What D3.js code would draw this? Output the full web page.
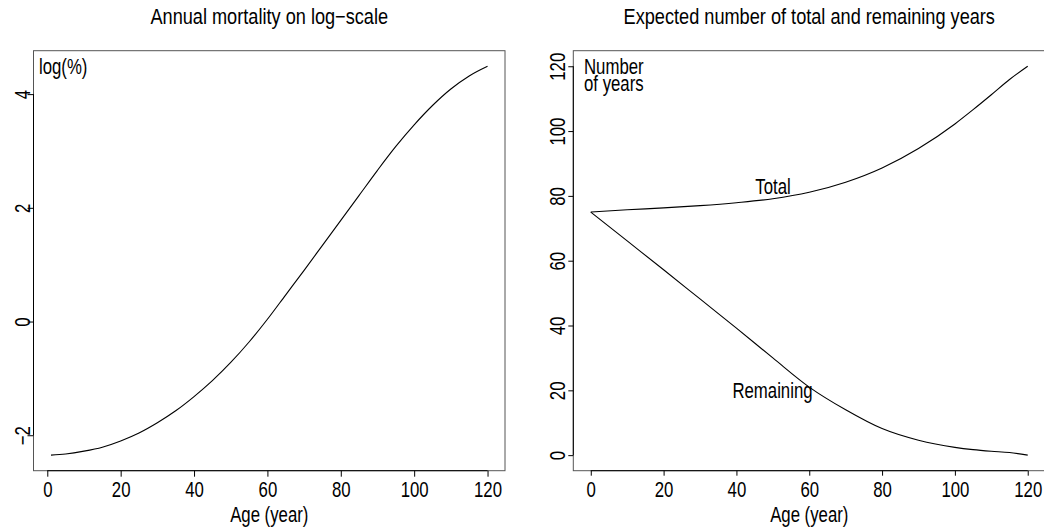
<!DOCTYPE html>
<html><head><meta charset="utf-8">
<script src="https://cdn.jsdelivr.net/npm/d3@7"></script>
<style>
html,body{margin:0;padding:0;background:#fff;}
text{font-family:"Liberation Sans",Arial,Helvetica,sans-serif;fill:#000;}
</style></head>
<body>
<svg id="chart" width="1044" height="531"></svg>
<script>
// ---- data ----
const agesLeft = [1,5,10,15,20,25,30,35,40,45,50,55,60,65,70,75,80,85,90,95,100,105,110,115,120];
const logMortality = [-2.35,-2.33,-2.28,-2.21,-2.10,-1.96,-1.78,-1.57,-1.32,-1.04,-0.72,-0.36,0.04,0.47,0.90,1.34,1.78,2.22,2.66,3.08,3.46,3.80,4.09,4.32,4.49];
const agesRight = [0,10,20,30,40,50,60,70,80,90,100,105,110,115,120];
const totalYears = [75,75.7,76.3,77.0,77.9,79.1,81.1,84.2,88.6,94.6,102.2,106.6,111.2,115.9,120];
const remainingYears = [75,66.1,57.2,48.2,39.2,30.0,21.0,14.0,8.2,4.6,2.4,1.7,1.2,0.8,0];
const xTickValues = [0,20,40,60,80,100,120];
const yTickLeft = [-2,0,2,4];
const yTickLeftLabels = ["\u22122","0","2","4"];
const yTickRight = [0,20,40,60,80,100,120];
const titles = ["Annual mortality on log\u2212scale","Expected number of total and remaining years"];
const xLabel = "Age (year)";
const yUnitLines = ["Number","of years"];

// ---- layout ----
const svg = d3.select("#chart");
const SX = 0.78;        // horizontal glyph compression seen in reference
const FS = 21.5;        // base font size
const plotTop = 50.7, plotBottom = 470.7;

function addText(g, x, y, s, o) {
  o = o || {};
  return g.append("text")
    .attr("transform", `translate(${x},${y})` + (o.rot ? ` rotate(${o.rot})` : "") + ` scale(${o.sx || SX},1)`)
    .attr("text-anchor", o.anchor || "middle")
    .style("font-size", (o.size || FS) + "px")
    .text(s);
}

function pad(lo, hi) { const d = (hi - lo) * 0.04; return [lo - d, hi + d]; }

function panel(cfg) {
  const g = svg.append("g");
  const x = d3.scaleLinear().domain(pad(cfg.xmin, cfg.xmax)).range([cfg.left, cfg.right]);
  const y = d3.scaleLinear().domain(pad(cfg.ymin, cfg.ymax)).range([plotBottom, plotTop]);

  g.append("rect").attr("x", cfg.left).attr("y", plotTop)
    .attr("width", cfg.right - cfg.left).attr("height", plotBottom - plotTop)
    .attr("fill", "none").attr("stroke", "#555").attr("stroke-width", 1);

  const xa = g.append("g").attr("transform", `translate(0,${plotBottom})`)
    .call(d3.axisBottom(x).tickValues(xTickValues).tickSize(cfg.tick).tickFormat(d3.format("d")));
  xa.select(".domain").remove();
  xa.append("line").attr("x1", x(xTickValues[0])).attr("x2", x(xTickValues[xTickValues.length-1]))
    .attr("y1", 0).attr("y2", 0).attr("stroke", "#000");
  xa.selectAll(".tick line").attr("stroke", "#000");
  xa.selectAll(".tick text").attr("y", 0).attr("dy", 0)
    .attr("transform", `translate(0,26.5) scale(${SX},1)`)
    .style("font-size", FS + "px");
  xa.attr("font-family", null).attr("font-size", null);

  const ya = g.append("g").attr("transform", `translate(${cfg.left},0)`)
    .call(d3.axisLeft(y).tickValues(cfg.yTicks).tickSize(cfg.tick)
      .tickFormat((d, i) => cfg.yLabels[i]));
  ya.select(".domain").remove();
  ya.append("line").attr("x1", 0).attr("x2", 0)
    .attr("y1", y(cfg.yTicks[0])).attr("y2", y(cfg.yTicks[cfg.yTicks.length-1])).attr("stroke", "#000");
  ya.selectAll(".tick line").attr("stroke", "#000");
  ya.selectAll(".tick text").attr("x", 0).attr("dy", 0).attr("text-anchor", "middle")
    .attr("transform", `translate(${-cfg.ylabOff},0) rotate(-90) scale(${SX},1)`)
    .style("font-size", FS + "px");
  ya.attr("font-family", null).attr("font-size", null);

  addText(g, (cfg.left + cfg.right) / 2, 24, cfg.title, {size: FS, sx: 0.845});
  addText(g, (cfg.left + cfg.right) / 2, 522, xLabel);
  return {g, x, y};
}

// left panel
const L = panel({left: 33.5, right: 505, tick: 6, ylabOff: 3.5,
  xmin: 1, xmax: 120, ymin: -2.35, ymax: 4.49,
  yTicks: yTickLeft, yLabels: yTickLeftLabels, title: titles[0]});
L.g.append("path")
  .datum(agesLeft.map((a, i) => [a, logMortality[i]]))
  .attr("d", d3.line().x(d => L.x(d[0])).y(d => L.y(d[1])).curve(d3.curveMonotoneX))
  .attr("fill", "none").attr("stroke", "#000").attr("stroke-width", 1.1);
addText(L.g, 39, 74, "log(%)", {anchor: "start"});

// right panel
const R = panel({left: 573.3, right: 1045.2, tick: 5, ylabOff: 8,
  xmin: 0, xmax: 120, ymin: 0, ymax: 120,
  yTicks: yTickRight, yLabels: yTickRight.map(String), title: titles[1]});
const lineR = d3.line().x(d => R.x(d[0])).y(d => R.y(d[1])).curve(d3.curveMonotoneX);
R.g.append("path").datum(agesRight.map((a, i) => [a, totalYears[i]]))
  .attr("d", lineR).attr("fill", "none").attr("stroke", "#000").attr("stroke-width", 1.1);
R.g.append("path").datum(agesRight.map((a, i) => [a, remainingYears[i]]))
  .attr("d", lineR).attr("fill", "none").attr("stroke", "#000").attr("stroke-width", 1.1);
const unitText = addText(R.g, 584, 74, "", {anchor: "start"});
unitText.selectAll("tspan").data(yUnitLines).join("tspan")
  .attr("x", 0).attr("dy", (d, i) => i === 0 ? 0 : 17).text(d => d);
addText(R.g, 773, 194, "Total");
addText(R.g, 772.5, 398, "Remaining");
</script>
</body></html>
